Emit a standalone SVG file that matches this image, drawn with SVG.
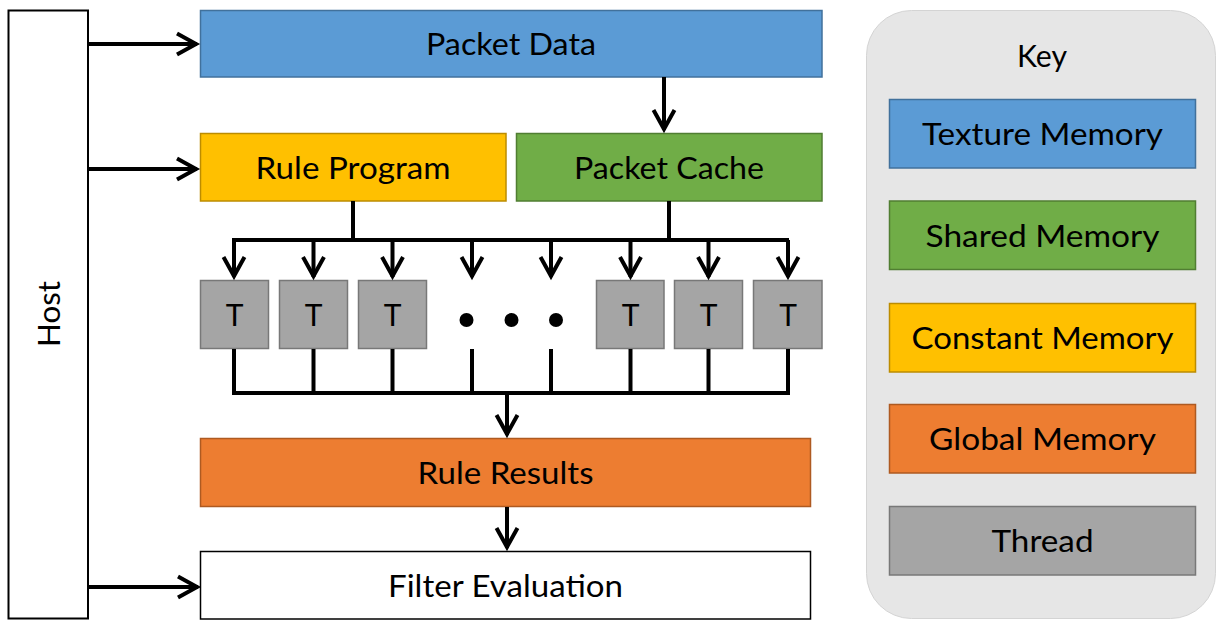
<svg xmlns="http://www.w3.org/2000/svg" width="1217" height="621" viewBox="0 0 1217 621">
<style>
  text { font-family: Lato, "Open Sans", "Liberation Sans", sans-serif; font-size: 30px; fill: #000; text-anchor: middle; }
  .blue { fill: #5B9BD5; stroke: #41719C; stroke-width: 1.5; }
  .green { fill: #70AD47; stroke: #507E32; stroke-width: 1.5; }
  .gold { fill: #FFC000; stroke: #BC8C00; stroke-width: 1.5; }
  .orange { fill: #ED7D31; stroke: #AE5A21; stroke-width: 1.5; }
  .gray { fill: #A5A5A5; stroke: #787878; stroke-width: 1.5; }
  .white { fill: #FFFFFF; stroke: #000; stroke-width: 1.5; }
  .conn { fill: none; stroke: #000; stroke-width: 4; stroke-linejoin: miter; }
  .arr { marker-end: url(#arrow); }
</style>
<defs>
  <marker id="arrow" viewBox="0 0 24 24" refX="21" refY="12" markerWidth="24" markerHeight="24" orient="auto" markerUnits="userSpaceOnUse" overflow="visible">
    <path d="M1,1.5 L20,12 L1,22.5" fill="none" stroke="#000" stroke-width="4" stroke-linejoin="miter"/>
  </marker>
</defs>
<rect width="1217" height="621" fill="#FFFFFF"/>

<g id="host">
  <rect x="8.5" y="10.5" width="79.5" height="608" fill="#FFFFFF" stroke="#000" stroke-width="2"/>
  <text transform="translate(60,314) rotate(-90)" textLength="66" lengthAdjust="spacingAndGlyphs">Host</text>
</g>

<g id="packet-data">
  <rect class="blue" x="200.5" y="10.5" width="621.5" height="66.5"/>
  <text x="511" y="55" textLength="170" lengthAdjust="spacingAndGlyphs">Packet Data</text>
</g>

<g id="rule-program">
  <rect class="gold" x="200.5" y="133.5" width="305.5" height="67.5"/>
  <text x="353" y="178.5" textLength="195" lengthAdjust="spacingAndGlyphs">Rule Program</text>
</g>

<g id="packet-cache">
  <rect class="green" x="516.5" y="133.5" width="305.5" height="67.5"/>
  <text x="669" y="178.5" textLength="190" lengthAdjust="spacingAndGlyphs">Packet Cache</text>
</g>

<g id="thread-1"><rect class="gray" x="200.5" y="280.5" width="68" height="68"/><text x="234.5" y="325.5">T</text></g>
<g id="thread-2"><rect class="gray" x="279.5" y="280.5" width="68" height="68"/><text x="313.5" y="325.5">T</text></g>
<g id="thread-3"><rect class="gray" x="358.5" y="280.5" width="68" height="68"/><text x="392.5" y="325.5">T</text></g>
<g id="ellipsis">
  <circle cx="466.5" cy="320" r="7" fill="#000"/>
  <circle cx="511.5" cy="320" r="7" fill="#000"/>
  <circle cx="556" cy="320" r="7" fill="#000"/>
</g>
<g id="thread-4"><rect class="gray" x="596.5" y="280.5" width="67.5" height="68"/><text x="630.5" y="325.5">T</text></g>
<g id="thread-5"><rect class="gray" x="674.5" y="280.5" width="68" height="68"/><text x="708.5" y="325.5">T</text></g>
<g id="thread-6"><rect class="gray" x="753.5" y="280.5" width="68.5" height="68"/><text x="788" y="325.5">T</text></g>

<g id="rule-results">
  <rect class="orange" x="200.5" y="438.5" width="610" height="68"/>
  <text x="505.5" y="483.5" textLength="176" lengthAdjust="spacingAndGlyphs">Rule Results</text>
</g>

<g id="filter-evaluation">
  <rect class="white" x="200.5" y="551.5" width="610" height="67.5"/>
  <text x="505.5" y="596.5" textLength="235" lengthAdjust="spacingAndGlyphs">Filter Evaluation</text>
</g>

<g id="key">
  <rect x="866.5" y="10.5" width="349" height="608" rx="45" ry="45" fill="#E6E6E6" stroke="#D4D4D4" stroke-width="1"/>
  <text x="1042" y="67" textLength="50" lengthAdjust="spacingAndGlyphs">Key</text>
  <g id="key-texture"><rect class="blue" x="889.5" y="99.5" width="306" height="68.5"/><text x="1042.5" y="145" textLength="241" lengthAdjust="spacingAndGlyphs">Texture Memory</text></g>
  <g id="key-shared"><rect class="green" x="889.5" y="201" width="306" height="68.5"/><text x="1042.5" y="246.5" textLength="234" lengthAdjust="spacingAndGlyphs">Shared Memory</text></g>
  <g id="key-constant"><rect class="gold" x="889.5" y="303.5" width="306" height="68.5"/><text x="1042.5" y="349" textLength="262" lengthAdjust="spacingAndGlyphs">Constant Memory</text></g>
  <g id="key-global"><rect class="orange" x="889.5" y="404.5" width="306" height="68.5"/><text x="1042.5" y="450" textLength="227" lengthAdjust="spacingAndGlyphs">Global Memory</text></g>
  <g id="key-thread"><rect class="gray" x="889.5" y="506.5" width="306" height="68.5"/><text x="1042.5" y="552" textLength="102" lengthAdjust="spacingAndGlyphs">Thread</text></g>
</g>

<g id="connectors">
  <path class="conn arr" d="M88,44 H197"/>
  <path class="conn arr" d="M88,169 H197"/>
  <path class="conn arr" d="M88,587 H198"/>
  <path class="conn arr" d="M664,77 V130"/>
  <path class="conn" d="M353,201 V240"/>
  <path class="conn" d="M669,201 V240"/>
  <path class="conn arr" d="M789,240 H234 V277"/>
  <path class="conn arr" d="M313.5,240 V277"/>
  <path class="conn arr" d="M392.5,240 V277"/>
  <path class="conn arr" d="M472,240 V277"/>
  <path class="conn arr" d="M551,240 V277"/>
  <path class="conn arr" d="M630.5,240 V277"/>
  <path class="conn arr" d="M708.5,240 V277"/>
  <path class="conn arr" d="M788,240 V277"/>
  <path class="conn" d="M234,349 V393 H788 V349"/>
  <path class="conn" d="M313.5,349 V393"/>
  <path class="conn" d="M392.5,349 V393"/>
  <path class="conn" d="M472,349 V393"/>
  <path class="conn" d="M551,349 V393"/>
  <path class="conn" d="M630.5,349 V393"/>
  <path class="conn" d="M708.5,349 V393"/>
  <path class="conn arr" d="M507,393 V435"/>
  <path class="conn arr" d="M507,507 V548"/>
</g>
</svg>
